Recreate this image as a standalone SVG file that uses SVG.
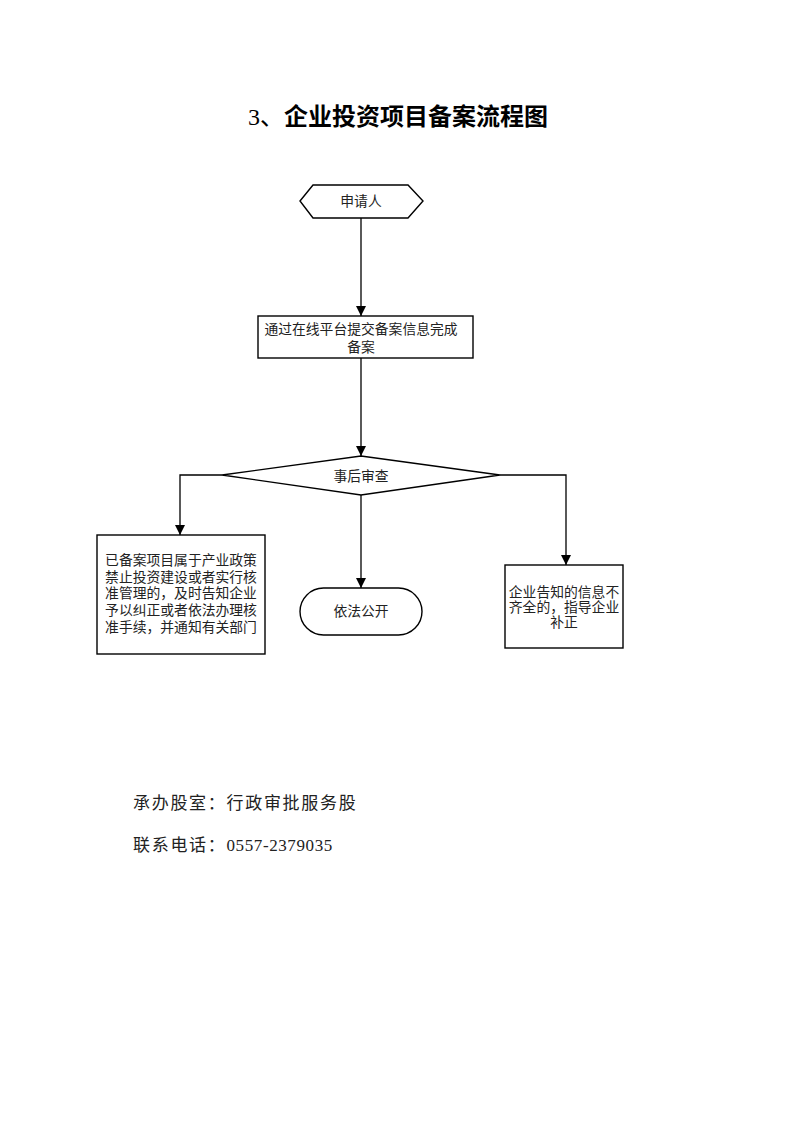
<svg xmlns="http://www.w3.org/2000/svg" width="793" height="1122" viewBox="0 0 793 1122">
<style>
.shape{fill:#fff;stroke:#000;stroke-width:1.4}
.conn{fill:none;stroke:#000;stroke-width:1.3}
.t{font-family:"Liberation Serif","Noto Sans CJK SC",serif;font-size:13.8px;fill:#222;text-anchor:middle}
.title{font-family:"Liberation Serif","Noto Sans CJK SC",serif;font-size:24px;font-weight:bold;fill:#000}
.foot{font-family:"Liberation Serif","Noto Sans CJK SC",serif;font-size:17px;letter-spacing:1.7px;fill:#222}
</style>
<defs>
<marker id="arr" viewBox="0 0 10 10" refX="10" refY="5" markerWidth="10" markerHeight="10" markerUnits="userSpaceOnUse" orient="auto">
<path d="M0,0 L10,5 L0,10 Z" fill="#000"/>
</marker>
</defs>
<rect width="793" height="1122" fill="#fff"/>
<text class="title" x="398" y="125" text-anchor="middle"><tspan font-weight="normal">3、</tspan>企业投资项目备案流程图</text>
<g id="connectors">
<path class="conn" d="M361,218 L361,316" marker-end="url(#arr)"/>
<path class="conn" d="M361,358 L361,456" marker-end="url(#arr)"/>
<path class="conn" d="M222,475 L180,475 L180,535" marker-end="url(#arr)"/>
<path class="conn" d="M361,495 L361,588" marker-end="url(#arr)"/>
<path class="conn" d="M500,475 L566,475 L566,565" marker-end="url(#arr)"/>
</g>
<g id="n1">
<polygon class="shape" points="300,201 313,185 408,185 423,201 408,218 313,218"/>
<text class="t" x="361" y="206">申请人</text>
</g>
<g id="n2">
<rect class="shape" x="258" y="316" width="215" height="42"/>
<text class="t" x="361" y="334">通过在线平台提交备案信息完成</text>
<text class="t" x="361" y="352">备案</text>
</g>
<g id="n3">
<polygon class="shape" points="361,456 500,475 361,495 222,475"/>
<text class="t" x="361" y="481">事后审查</text>
</g>
<g id="n4">
<rect class="shape" x="97" y="535" width="168" height="119"/>
<text class="t" x="181" y="565">已备案项目属于产业政策</text>
<text class="t" x="181" y="582">禁止投资建设或者实行核</text>
<text class="t" x="181" y="598">准管理的，及时告知企业</text>
<text class="t" x="181" y="615">予以纠正或者依法办理核</text>
<text class="t" x="181" y="632">准手续，并通知有关部门</text>
</g>
<g id="n5">
<rect class="shape" x="300" y="588" width="122" height="47" rx="23.5" ry="23.5"/>
<text class="t" x="361" y="616">依法公开</text>
</g>
<g id="n6">
<rect class="shape" x="505" y="565" width="118" height="83"/>
<text class="t" x="564" y="597">企业告知的信息不</text>
<text class="t" x="564" y="612">齐全的，指导企业</text>
<text class="t" x="564" y="627">补正</text>
</g>
<text class="foot" x="133" y="809">承办股室：行政审批服务股</text>
<text class="foot" x="133" y="851">联系电话：<tspan letter-spacing="0.6">0557-2379035</tspan></text>
</svg>
